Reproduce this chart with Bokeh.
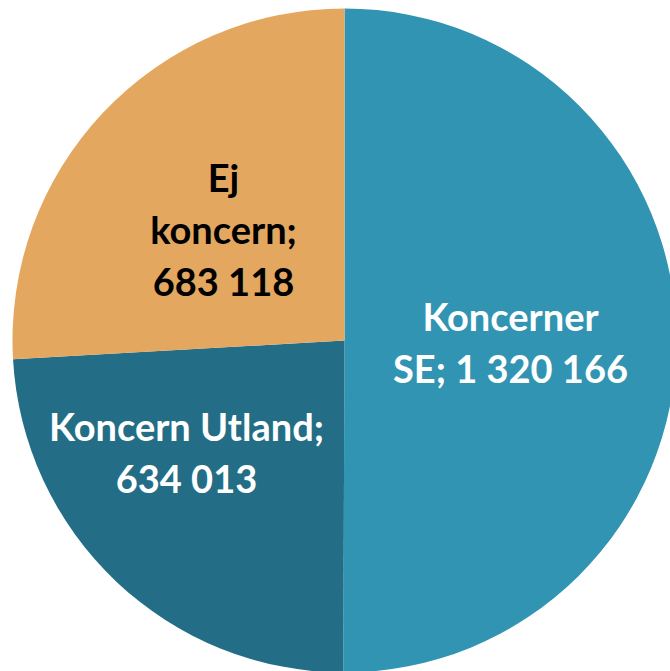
from bokeh.plotting import figure
from bokeh.models import ColumnDataSource, Range1d
from bokeh.core.properties import value
from bokeh.embed import file_html
from bokeh.resources import INLINE
import math

categories = ["Koncerner SE", "Koncern Utland", "Ej koncern"]
values = [1320166, 634013, 683118]
colors = ["#3194B2", "#236E86", "#E3A760"]
label_colors = ["white", "white", "black"]

def fmt(v):
    return f"{v:,}".replace(",", " ")

label_lines = [
    ["Koncerner", "SE; " + fmt(values[0])],
    ["Koncern Utland;", fmt(values[1])],
    ["Ej", "koncern;", fmt(values[2])],
]

total = sum(values)
starts, ends = [], []
cum = 0
for v in values:
    starts.append(math.pi / 2 - 2 * math.pi * cum / total)
    cum += v
    ends.append(math.pi / 2 - 2 * math.pi * cum / total)

src = ColumnDataSource(dict(cat=categories, val=values, color=colors,
                            start=starts, end=ends))

W, H = 670, 671
p = figure(width=W, height=H, output_backend="svg", toolbar_location=None,
           x_range=Range1d(-344, 326), y_range=Range1d(-331, 340),
           min_border=0, outline_line_color=None, title=None)
p.axis.visible = False
p.grid.visible = False
p.background_fill_color = "white"
p.border_fill_color = "white"

R = 332
p.wedge(x=0, y=0, radius=R, start_angle="start", end_angle="end",
        direction="clock", fill_color="color", line_color=None, source=src)

# label anchors (layout): centre x and first baseline y; line step
anchors = [(166, 25), (-158, -85), (-121, 164)]
step = 52
for lines, (ax, ay), tc in zip(label_lines, anchors, label_colors):
    xs = [ax] * len(lines)
    ys = [ay - i * step for i in range(len(lines))]
    p.text(x=xs, y=ys, text=lines, text_align="center",
           text_baseline="alphabetic", text_color=tc,
           text_font=value("Lato"), text_font_style="bold",
           text_font_size="38px")

open("out.html", "w").write(file_html(p, INLINE))
